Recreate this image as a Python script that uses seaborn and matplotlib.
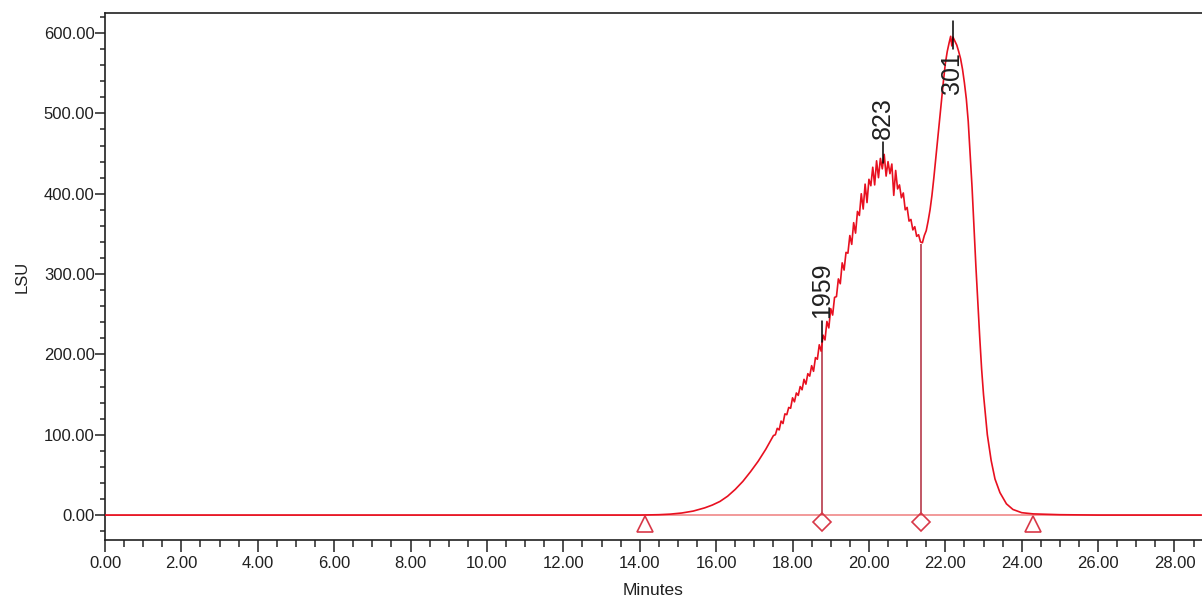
import matplotlib
matplotlib.use("Agg")
import matplotlib.pyplot as plt
from matplotlib.ticker import MultipleLocator, FormatStrFormatter
import pandas as pd
import seaborn as sns

# trace (minutes, LSU)
minutes = [
    0.0, 2.0, 4.0, 6.0, 8.0, 10.0, 12.0, 14.0, 14.5, 14.8, 15.1, 15.4, 15.7, 15.9,
    16.1, 16.3, 16.5, 16.7, 16.9, 17.1, 17.3,
    17.50, 17.55, 17.60, 17.65, 17.70, 17.75, 17.80, 17.85, 17.90, 17.95,
    18.00, 18.05, 18.10, 18.15, 18.20, 18.25, 18.30, 18.35, 18.40, 18.45,
    18.50, 18.55, 18.60, 18.65, 18.70, 18.75, 18.80, 18.85, 18.90, 18.95,
    19.00, 19.05, 19.10, 19.15, 19.20, 19.25, 19.30, 19.35, 19.40, 19.45,
    19.50, 19.55, 19.60, 19.65, 19.70, 19.75, 19.80, 19.85, 19.90, 19.95,
    20.00, 20.05, 20.10, 20.15, 20.20, 20.25, 20.30, 20.35, 20.40, 20.45,
    20.50, 20.55, 20.60, 20.65, 20.70, 20.75, 20.80, 20.85, 20.90, 20.95,
    21.00, 21.05, 21.10, 21.15, 21.20, 21.25, 21.30, 21.35, 21.40, 21.45,
    21.50, 21.55, 21.60, 21.65, 21.70, 21.75, 21.80, 21.85, 21.90, 21.95,
    22.00, 22.05, 22.10, 22.14, 22.17, 22.20, 22.25, 22.30, 22.35, 22.40, 22.45,
    22.50, 22.55, 22.60, 22.65, 22.70, 22.75, 22.80, 22.85, 22.90, 22.95,
    23.00, 23.10, 23.20, 23.30, 23.43, 23.60, 23.77, 24.00, 24.30, 25.0, 26.0, 27.0, 28.7,
]
lsu = [
    0, 0, 0, 0, 0, 0, 0, 0, 0.5, 1.2, 2.6, 5, 9, 12.5,
    17, 23.5, 32, 42, 54, 67, 82,
    99, 100, 108, 106, 117, 114, 126, 125, 134, 133,
    146, 141, 152, 149, 160, 156, 169, 163, 176, 173,
    186, 179, 196, 194, 212, 204, 224, 218, 241, 233,
    257, 249, 271, 272, 294, 288, 314, 305, 327, 326,
    348, 337, 364, 351, 378, 373, 400, 381, 412, 389,
    418, 410, 433, 411, 441, 420, 444, 431, 449, 422,
    440, 425, 437, 398, 429, 406, 411, 395, 401, 380,
    383, 366, 368, 355, 359, 347, 349, 340, 339, 348,
    354, 366, 380, 398, 420, 444, 468, 492, 515, 540,
    562, 577, 588, 596, 584, 595, 590, 585, 577, 568, 555,
    538, 518, 490, 450, 408, 358, 310, 265, 222, 182,
    150, 100, 68, 45, 28, 14, 7, 3, 1.5, 0.5, 0, 0, 0,
]

# integration events
peak_start = [14.13, 24.30]
peak_drops = [18.77, 21.36]
drop_heights = [215, 338]

# peak labels: retention time, apex height, label
apex_time = [18.77, 20.37, 22.20]
apex_lsu = [215, 438, 590]
apex_label = ["1959", "823", "301"]

x_ticks = [0, 2, 4, 6, 8, 10, 12, 14, 16, 18, 20, 22, 24, 26, 28]

sns.set_theme(style="ticks")
plt.rcParams["font.family"] = ["Liberation Sans", "DejaVu Sans"]

fig = plt.figure(figsize=(12.02, 5.99), dpi=100)
ax = fig.add_axes([105 / 1202, 59 / 599, 1097 / 1202, 527 / 599])

trace = pd.DataFrame({"Minutes": minutes, "LSU": lsu})
ax.axhline(0, color="#f29a9a", lw=1.4, zorder=1)
sns.lineplot(data=trace, x="Minutes", y="LSU", sort=False, estimator=None,
             color="#e81020", lw=1.2, ax=ax, zorder=3)

ax.vlines(peak_drops, 0, drop_heights, color="#b0283a", lw=1.1, zorder=2)
ax.plot(peak_start, [-11] * len(peak_start), linestyle="none", marker="^",
        markersize=12, markerfacecolor="none", markeredgecolor="#d83848", mew=1.2)
ax.plot(peak_drops, [-9] * len(peak_drops), linestyle="none", marker="D",
        markersize=9, markerfacecolor="none", markeredgecolor="#d83848", mew=1.2)

for i, (t, h, lab) in enumerate(zip(apex_time, apex_lsu, apex_label)):
    if i < 2:
        ax.plot([t, t], [h, h + 26], color="black", lw=1.1, zorder=4)
        ax.text(t, h + 30, lab, rotation=90, ha="center", va="bottom",
                fontsize=18, color="#202020")
    else:
        # label falls below the apex for the last peak
        ax.plot([t, t], [h - 10, h + 25], color="black", lw=1.1, zorder=4)
        ax.text(t - 0.02, h - 14, lab, rotation=90, ha="center", va="top",
                fontsize=18, color="#202020")

ax.set_xlim(0, 28.72)
ax.set_ylim(-31, 625)
ax.set_xticks(x_ticks)
ax.xaxis.set_minor_locator(MultipleLocator(0.5))
ax.yaxis.set_major_locator(MultipleLocator(100))
ax.yaxis.set_minor_locator(MultipleLocator(20))
ax.xaxis.set_major_formatter(FormatStrFormatter("%.2f"))
ax.yaxis.set_major_formatter(FormatStrFormatter("%.2f"))

ax.spines["right"].set_visible(False)
for s in ["left", "bottom", "top"]:
    ax.spines[s].set_linewidth(1.2)
    ax.spines[s].set_color("#202020")

ax.tick_params(axis="x", which="major", direction="out", length=8.5, width=1.1,
               pad=3, labelsize=12, colors="#202020")
ax.tick_params(axis="x", which="minor", direction="out", length=5, width=1.1)
ax.tick_params(axis="y", which="major", direction="out", length=7, width=1.1,
               pad=0.5, labelsize=12, colors="#202020")
ax.tick_params(axis="y", which="minor", direction="out", length=3.5, width=1.1)

ax.set_xlabel("Minutes", fontsize=12.5, color="#202020", labelpad=9)
ax.set_ylabel("LSU", fontsize=12, color="#202020", labelpad=10)

fig.savefig("out.png", dpi=100)
